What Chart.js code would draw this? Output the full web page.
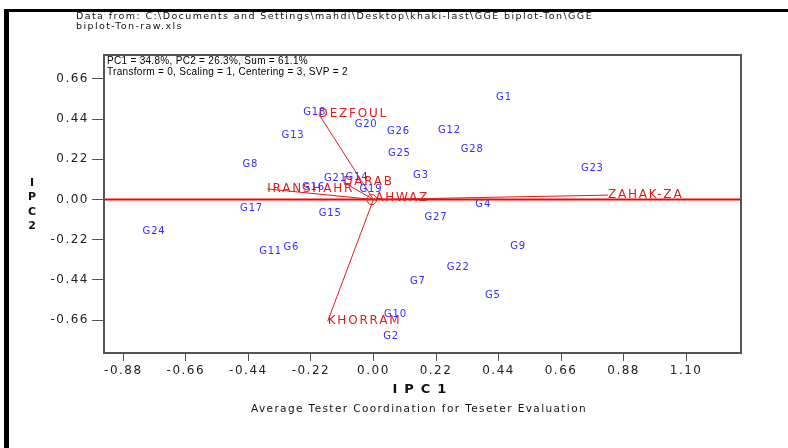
<!DOCTYPE html>
<html lang="en">
<head>
    <meta charset="UTF-8">
    <title>GGE biplot - Average Tester Coordination</title>
    <script src="https://cdn.jsdelivr.net/npm/chart.js"></script>
    <style>
        body {
            margin: 0;
            background: #ffffff;
            overflow: hidden;
        }
        canvas {
            display: block;
        }
    </style>
</head>
<body>
    <canvas id="biplot" width="788" height="448"></canvas>

    <script>
        // genotypes (blue labels)
        const genotypes = ['G1', 'G2', 'G3', 'G4', 'G5', 'G6', 'G7', 'G8', 'G9', 'G10',
            'G11', 'G12', 'G13', 'G14', 'G15', 'G16', 'G17', 'G18', 'G19', 'G20',
            'G21', 'G22', 'G23', 'G24', 'G25', 'G26', 'G27', 'G28'];
        const genoX = [0.459, 0.062, 0.167, 0.386, 0.420, -0.289, 0.156, -0.433, 0.509, 0.077,
            -0.362, 0.267, -0.283, -0.058, -0.152, -0.211, -0.429, -0.207, -0.009, -0.026,
            -0.134, 0.298, 0.770, -0.772, 0.091, 0.088, 0.220, 0.347];
        const genoY = [0.558, -0.751, 0.130, -0.027, -0.525, -0.263, -0.450, 0.190, -0.257, -0.631,
            -0.285, 0.379, 0.349, 0.122, -0.078, 0.067, -0.051, 0.478, 0.055, 0.409,
            0.117, -0.374, 0.170, -0.175, 0.253, 0.372, -0.097, 0.272];

        // testers (red vectors)
        const testers = ['DEZFOUL', 'KHORRAM', 'ZAHAK-ZA', 'IRANSHAHR', 'DARAB', 'AHWAZ'];
        const testerX = [-0.193, -0.161, 0.825, -0.374, -0.106, 0.006];
        const testerY = [0.469, -0.666, 0.024, 0.058, 0.095, 0.009];

        // average environment marker
        const aveX = [-0.006];
        const aveY = [0.0];

        const xTicks = [-0.88, -0.66, -0.44, -0.22, 0.00, 0.22, 0.44, 0.66, 0.88, 1.10];
        const yTicks = [-0.66, -0.44, -0.22, 0.00, 0.22, 0.44, 0.66];

        const headerLines = [
            'Data from: C:\\Documents and Settings\\mahdi\\Desktop\\khaki-last\\GGE biplot-Ton\\GGE',
            'biplot-Ton-raw.xls'
        ];
        const infoLines = [
            'PC1 = 34.8%, PC2 = 26.3%, Sum = 61.1%',
            'Transform = 0, Scaling = 1, Centering = 3, SVP = 2'
        ];
        const xTitle = 'I P C 1';
        const yTitle = ['I', 'P', 'C', '2'];
        const subTitle = 'Average Tester Coordination for Teseter Evaluation';

        const RED = '#e01b1b';
        const BLUE = '#2f2fff';
        const FRAME = '#555555';

        const decor = {
            id: 'decor',
            beforeDraw(chart) {
                const ctx = chart.ctx;
                ctx.save();
                ctx.fillStyle = '#ffffff';
                ctx.fillRect(0, 0, chart.width, chart.height);
                // black frame lines of the original window
                ctx.fillStyle = '#000000';
                ctx.fillRect(4, 9, chart.width - 4, 3);
                ctx.fillRect(4, 9, 5, chart.height - 9);
                ctx.restore();
                // wide look of the tick labels
                ctx.letterSpacing = '1.5px';
            },
            beforeDatasetsDraw(chart) {
                const { ctx, chartArea: a, scales } = chart;
                const y0 = scales.y.getPixelForValue(0);
                ctx.save();
                ctx.strokeStyle = '#ff0000';
                ctx.lineWidth = 2;
                ctx.beginPath();
                ctx.moveTo(a.left, y0);
                ctx.lineTo(a.right, y0);
                ctx.stroke();
                ctx.restore();
            },
            afterDatasetsDraw(chart) {
                const { ctx, chartArea: a } = chart;
                ctx.save();

                // tester names at the end of each vector
                ctx.font = '12px "DejaVu Sans"';
                ctx.letterSpacing = '1.8px';
                ctx.fillStyle = RED;
                ctx.textAlign = 'left';
                ctx.textBaseline = 'middle';
                testers.forEach((t, i) => {
                    const p = chart.getDatasetMeta(i).data[1];
                    ctx.fillText(t, p.x, p.y);
                });

                // genotype labels
                const gMeta = chart.getDatasetMeta(testers.length);
                ctx.font = '10px "DejaVu Sans"';
                ctx.letterSpacing = '0.8px';
                ctx.fillStyle = BLUE;
                ctx.textAlign = 'center';
                genotypes.forEach((g, i) => {
                    const p = gMeta.data[i];
                    ctx.fillText(g, p.x, p.y);
                });

                // plot frame
                ctx.strokeStyle = FRAME;
                ctx.lineWidth = 2;
                ctx.strokeRect(a.left, a.top, a.right - a.left, a.bottom - a.top);

                // info box text
                ctx.letterSpacing = '0.3px';
                ctx.fillStyle = '#000000';
                ctx.textAlign = 'left';
                ctx.font = '10px Arial';
                ctx.fillText(infoLines[0], a.left + 3, a.top + 6);
                ctx.fillText(infoLines[1], a.left + 3, a.top + 17);

                // header
                ctx.font = '9.5px "DejaVu Sans"';
                ctx.letterSpacing = '1.4px';
                ctx.fillStyle = '#111111';
                ctx.fillText(headerLines[0], 76, 17);
                ctx.fillText(headerLines[1], 76, 27);

                // axis titles
                ctx.font = 'bold 13px "DejaVu Sans"';
                ctx.letterSpacing = '1.2px';
                ctx.textAlign = 'center';
                ctx.fillText(xTitle, 420, 390);
                ctx.font = 'bold 11px "DejaVu Sans"';
                ctx.letterSpacing = '0px';
                yTitle.forEach((ch, i) => ctx.fillText(ch, 32, 183 + i * 14.4));

                ctx.font = '10.5px "DejaVu Sans"';
                ctx.letterSpacing = '1.4px';
                ctx.fillText(subTitle, 419, 409);
                ctx.restore();
            }
        };

        const datasets = testers.map((t, i) => ({
            label: t,
            data: [{ x: 0, y: 0 }, { x: testerX[i], y: testerY[i] }],
            showLine: true,
            borderColor: RED,
            borderWidth: 1,
            pointRadius: 0
        }));
        datasets.push({
            label: 'Genotypes',
            data: genotypes.map((g, i) => ({ x: genoX[i], y: genoY[i] })),
            pointRadius: 0
        });
        datasets.push({
            label: 'Average environment',
            data: aveX.map((v, i) => ({ x: v, y: aveY[i] })),
            pointRadius: 5,
            pointBorderColor: RED,
            pointBackgroundColor: 'rgba(0,0,0,0)',
            pointBorderWidth: 1
        });

        const ctx = document.getElementById('biplot').getContext('2d');
        new Chart(ctx, {
            type: 'scatter',
            data: { datasets },
            options: {
                responsive: false,
                animation: false,
                devicePixelRatio: 1,
                layout: { padding: { left: 0, top: 55, right: 47, bottom: 0 } },
                plugins: {
                    legend: { display: false },
                    tooltip: { enabled: false }
                },
                scales: {
                    x: {
                        type: 'linear',
                        min: -0.948,
                        max: 1.293,
                        afterBuildTicks: s => { s.ticks = xTicks.map(v => ({ value: v })); },
                        afterFit: s => { s.height = 95; },
                        border: { display: false },
                        grid: { drawOnChartArea: false, tickLength: 8, tickColor: FRAME, lineWidth: 1 },
                        ticks: {
                            autoSkip: false,
                            maxRotation: 0,
                            padding: 3,
                            color: '#222222',
                            font: { family: 'DejaVu Sans', size: 12 },
                            callback: v => v.toFixed(2)
                        }
                    },
                    y: {
                        type: 'linear',
                        min: -0.84,
                        max: 0.791,
                        afterBuildTicks: s => { s.ticks = yTicks.map(v => ({ value: v })); },
                        afterFit: s => { s.width = 104; },
                        border: { display: false },
                        grid: { drawOnChartArea: false, tickLength: 12, tickColor: FRAME, lineWidth: 1 },
                        ticks: {
                            autoSkip: false,
                            padding: 3,
                            color: '#222222',
                            font: { family: 'DejaVu Sans', size: 12 },
                            callback: v => v.toFixed(2)
                        }
                    }
                }
            },
            plugins: [decor]
        });
    </script>
</body>
</html>
